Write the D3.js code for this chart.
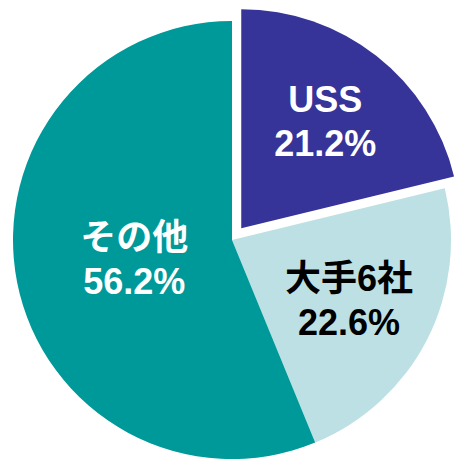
<!DOCTYPE html>
<html>
<head>
<meta charset="utf-8">
<script src="https://cdn.jsdelivr.net/npm/d3@7"></script>
<style>
  html, body { margin: 0; padding: 0; background: #fff; }
</style>
</head>
<body>
<div id="chart"></div>
<script>
// Share data (clockwise from 12 o'clock)
const categories = ["USS", "大手6社", "その他"];
const shares = [21.2, 22.6, 56.2];
const labels = ["21.2%", "22.6%", "56.2%"];

// Styling per slice
const colors = ["#363399", "#BCE0E3", "#009999"];
const textColors = ["#ffffff", "#000000", "#ffffff"];
const labelRadiusFactor = { "USS": 0.62, "大手6社": 0.6, "その他": 0.455 };

const width = 462, height = 462;
const cx = 232, cy = 240;
const radius = 219;
const explode = 15;

const svg = d3.select("#chart")
    .append("svg")
    .attr("width", width)
    .attr("height", height)
    .append("g")
    .attr("transform", `translate(${cx}, ${cy})`);

const pie = d3.pie().sort(null).value(d => d.value);
const arcs = pie(categories.map((c, i) => ({ name: c, value: shares[i], label: labels[i], i })));

const arc = d3.arc().innerRadius(0).outerRadius(radius);

// offset for the pulled-out slice
function shift(d) {
    if (d.data.name !== "USS") return [0, 0];
    const a = (d.startAngle + d.endAngle) / 2;
    return [explode * Math.sin(a), -explode * Math.cos(a)];
}

const slice = svg.selectAll(".slice")
    .data(arcs)
    .enter()
    .append("g")
    .attr("class", "slice")
    .attr("transform", d => `translate(${shift(d)[0]}, ${shift(d)[1]})`);

slice.append("path")
    .attr("d", arc)
    .style("fill", d => colors[d.data.i]);

// labels: name + percent
const label = slice.append("text")
    .attr("transform", d => {
        const r = radius * labelRadiusFactor[d.data.name];
        const la = d3.arc().innerRadius(r).outerRadius(r);
        const [x, y] = la.centroid(d);
        return `translate(${x}, ${y})`;
    })
    .attr("text-anchor", "middle")
    .style("font-family", "'Liberation Sans', Arial, 'Noto Sans CJK JP', sans-serif")
    .style("font-weight", "bold")
    .style("font-size", "36px")
    .style("fill", d => textColors[d.data.i]);

label.append("tspan")
    .attr("x", 0)
    .attr("y", -9)
    .text(d => d.data.name);

label.append("tspan")
    .attr("x", 0)
    .attr("y", 35)
    .text(d => d.data.label);
</script>
</body>
</html>
